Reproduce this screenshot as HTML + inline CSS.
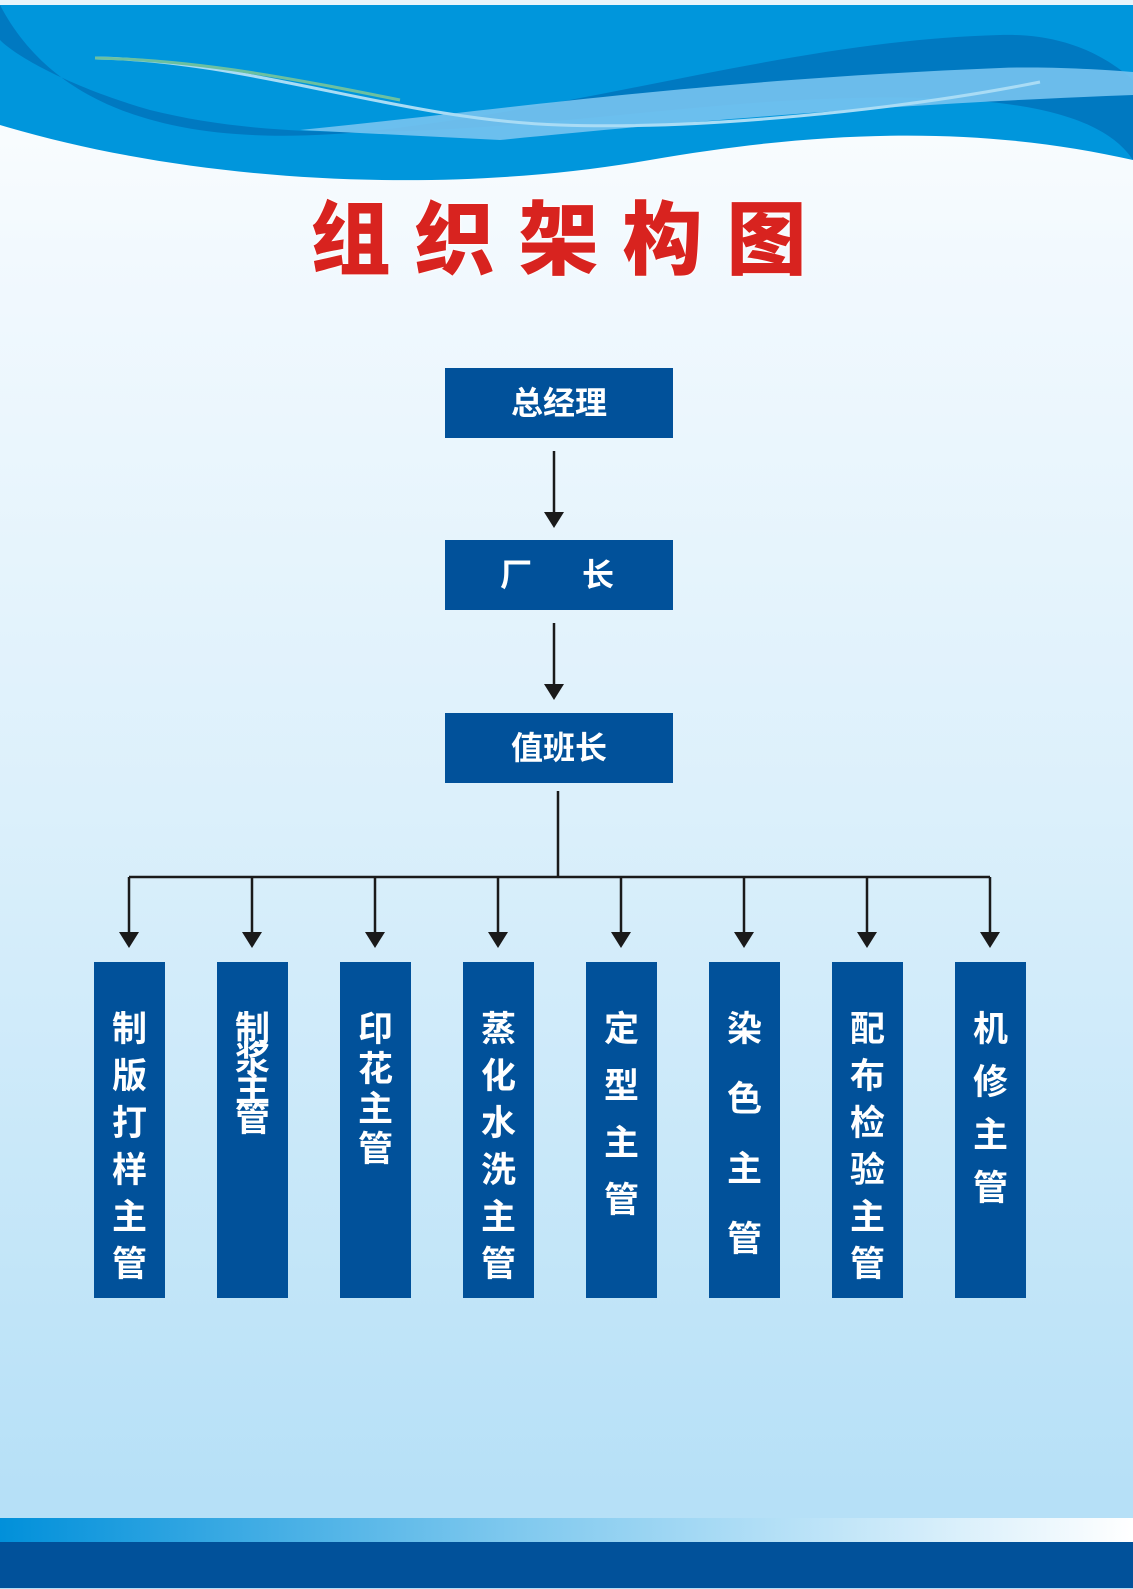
<!DOCTYPE html>
<html><head><meta charset="utf-8"><style>
*{margin:0;padding:0}
body{width:1133px;height:1589px;position:relative;overflow:hidden;background:linear-gradient(#ffffff 0px,#f2f9fe 250px,#dcf0fb 800px,#b6e0f7 1500px);font-family:"Liberation Sans","Noto Sans CJK SC",sans-serif}
.b{position:absolute;background:#01519a;color:#fff;font-weight:bold}
.t{left:445px;width:228px;height:70px;line-height:70px;text-align:center;font-size:32px}
.v{top:962px;width:71px;height:336px}
.c{position:absolute;left:0;width:71px;text-align:center;font-size:35px;line-height:40px;color:#fff;font-weight:bold}
.title{position:absolute;top:176px;left:0;width:1133px;text-align:center;font-size:80px;font-weight:900;color:#d8231f;letter-spacing:24px;text-indent:8px;text-shadow:0 0 3px #fff,0 0 3px #fff}
</style></head><body>
<svg width="1133" height="200" style="position:absolute;left:0;top:0">
<rect x="0" y="0" width="1133" height="5" fill="#e8f4fb"/>
<path d="M0 5 H1133 V160 C1000 130 850 125 650 160 C450 195 200 185 0 125 Z" fill="#0096dc"/>
<path d="M0 5 C60 120 200 150 380 130 C600 105 800 40 1000 35 C1070 33 1110 60 1133 80 V160 C1100 110 1000 90 800 100 C600 110 350 160 150 110 C80 90 20 60 0 40 Z" fill="#0079c1"/>
<path d="M300 130 C500 110 700 80 1000 68 C1050 66 1110 70 1133 72 V95 C1000 100 800 110 500 140 Z" fill="#77c3ef" opacity="0.9"/>
<path d="M95 58 C250 60 400 120 560 125 C700 130 900 110 1040 82" stroke="#a9dcf5" stroke-width="3" fill="none"/>
<path d="M95 58 C200 60 300 80 400 100" stroke="#6cc0a0" stroke-width="3" fill="none"/>
</svg>
<div class="title">组织架构图</div>
<div class="b t" style="top:368px">总经理</div>
<div class="b t" style="top:540px"><span style="position:absolute;left:55px">厂</span><span style="position:absolute;left:137px">长</span></div>
<div class="b t" style="top:713px">值班长</div>
<svg width="1133" height="1589" style="position:absolute;left:0;top:0">
<g stroke="#1a1a1a" stroke-width="2.5" fill="none">
<line x1="554" y1="451" x2="554" y2="515"/>
<line x1="554" y1="623" x2="554" y2="688"/>
<line x1="558" y1="791" x2="558" y2="877"/>
<line x1="129" y1="877" x2="990" y2="877"/>
<line x1="129" y1="877" x2="129" y2="936"/><line x1="252" y1="877" x2="252" y2="936"/><line x1="375" y1="877" x2="375" y2="936"/><line x1="498" y1="877" x2="498" y2="936"/><line x1="621" y1="877" x2="621" y2="936"/><line x1="744" y1="877" x2="744" y2="936"/><line x1="867" y1="877" x2="867" y2="936"/><line x1="990" y1="877" x2="990" y2="936"/>
</g>
<g fill="#1a1a1a">
<path d="M544 512 H564 L554 528 Z"/><path d="M544 684 H564 L554 700 Z"/>
<path d="M119 932 H139 L129 948 Z"/><path d="M242 932 H262 L252 948 Z"/><path d="M365 932 H385 L375 948 Z"/><path d="M488 932 H508 L498 948 Z"/><path d="M611 932 H631 L621 948 Z"/><path d="M734 932 H754 L744 948 Z"/><path d="M857 932 H877 L867 948 Z"/><path d="M980 932 H1000 L990 948 Z"/>
</g>
</svg>
<div class="b v" style="left:94px"><div class="c" style="top:48px">制</div><div class="c" style="top:95px">版</div><div class="c" style="top:142px">打</div><div class="c" style="top:189px">样</div><div class="c" style="top:236px">主</div><div class="c" style="top:283px">管</div></div>
<div class="b v" style="left:217px"><div class="c" style="top:48px">制</div><div class="c" style="top:78px">浆</div><div class="c" style="top:108px">主</div><div class="c" style="top:138px">管</div></div>
<div class="b v" style="left:340px"><div class="c" style="top:48px">印</div><div class="c" style="top:88px">花</div><div class="c" style="top:128px">主</div><div class="c" style="top:168px">管</div></div>
<div class="b v" style="left:463px"><div class="c" style="top:48px">蒸</div><div class="c" style="top:95px">化</div><div class="c" style="top:142px">水</div><div class="c" style="top:189px">洗</div><div class="c" style="top:236px">主</div><div class="c" style="top:283px">管</div></div>
<div class="b v" style="left:586px"><div class="c" style="top:48px">定</div><div class="c" style="top:105px">型</div><div class="c" style="top:162px">主</div><div class="c" style="top:219px">管</div></div>
<div class="b v" style="left:709px"><div class="c" style="top:48px">染</div><div class="c" style="top:118px">色</div><div class="c" style="top:188px">主</div><div class="c" style="top:258px">管</div></div>
<div class="b v" style="left:832px"><div class="c" style="top:48px">配</div><div class="c" style="top:95px">布</div><div class="c" style="top:142px">检</div><div class="c" style="top:189px">验</div><div class="c" style="top:236px">主</div><div class="c" style="top:283px">管</div></div>
<div class="b v" style="left:955px"><div class="c" style="top:48px">机</div><div class="c" style="top:101px">修</div><div class="c" style="top:154px">主</div><div class="c" style="top:207px">管</div></div>
<div style="position:absolute;left:0;top:1518px;width:1133px;height:25px;background:linear-gradient(90deg,#0190da,#7ec8ee 45%,#b7e1f7 70%,#ffffff)"></div>
<div style="position:absolute;left:0;top:1542px;width:1133px;height:46px;background:#01519a"></div>
</body></html>
